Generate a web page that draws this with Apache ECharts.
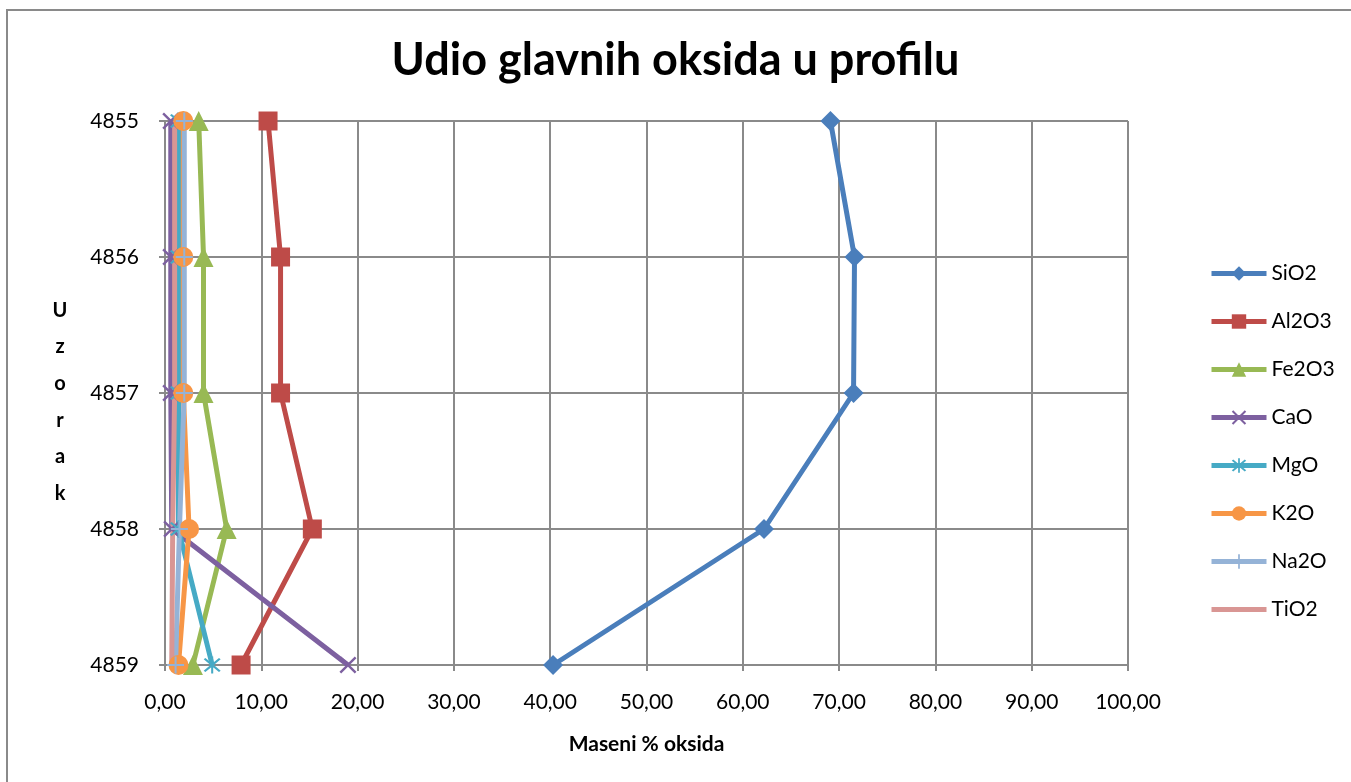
<!DOCTYPE html>
<html lang="hr">
<head>
    <meta charset="UTF-8">
    <title>Udio glavnih oksida u profilu</title>
    <script src="https://cdn.jsdelivr.net/npm/echarts@6/dist/echarts.min.js"></script>
    <style>
        html, body { margin: 0; padding: 0; background: #fff; }
        #chart { width: 1351px; height: 782px; }
    </style>
</head>
<body>
<div id="chart"></div>
<script>
    // samples (depth labels), top to bottom
    const samples = ['4855', '4856', '4857', '4858', '4859'];

    // mass % of each oxide per sample
    const sio2  = [69.1, 71.6, 71.5, 62.2, 40.3];
    const al2o3 = [10.7, 12.0, 12.0, 15.3, 7.9];
    const fe2o3 = [3.5, 4.0, 4.0, 6.4, 2.9];
    const cao   = [0.6, 0.6, 0.6, 0.7, 19.0];
    const mgo   = [1.4, 1.4, 1.4, 1.4, 4.9];
    const k2o   = [1.9, 1.9, 1.9, 2.5, 1.4];
    const na2o  = [2.0, 2.0, 2.0, 1.5, 1.1];
    const tio2  = [1.0, 1.0, 1.0, 0.8, 0.7];

    const font = 'Lato, "Open Sans", sans-serif';

    const crossPath = 'path://M0,1L1,0L5,4L9,0L10,1L6,5L10,9L9,10L5,6L1,10L0,9L4,5Z';
    const starPath = 'path://M0,1L1,0L5,4L9,0L10,1L6,5L10,9L9,10L5,6L1,10L0,9L4,5Z M4.4,-1H5.6V11H4.4Z';
    const plusPath = 'path://M4.4,0H5.6V10H4.4Z M0,4.4H10V5.6H0Z';

    function mk(name, data, color, symbol, size) {
        return {
            name: name,
            type: 'line',
            data: data,
            symbol: symbol,
            symbolSize: size,
            showSymbol: symbol !== 'none',
            lineStyle: { color: color, width: 5 },
            itemStyle: { color: color },
            emphasis: { disabled: true }
        };
    }

    const chart = echarts.init(document.getElementById('chart'));
    chart.setOption({
        animation: false,
        textStyle: { fontFamily: font },
        graphic: [{
            type: 'rect',
            shape: { x: 7, y: 10, width: 1400, height: 800 },
            style: { fill: 'none', stroke: '#8a8a8a', lineWidth: 2 }
        }, {
            // vertical stacked y-axis title
            type: 'text',
            x: 60,
            y: 292,
            style: {
                text: 'U\nz\no\nr\na\nk',
                font: 'bold 20px ' + font,
                lineHeight: 36.6,
                fill: '#000',
                align: 'center',
                verticalAlign: 'top'
            }
        }],
        title: {
            text: 'Udio glavnih oksida u profilu',
            left: 'center',
            top: 33,
            textStyle: { fontFamily: font, fontSize: 45, fontWeight: 'bold', color: '#000' }
        },
        grid: { left: 165, right: 223, top: 121, bottom: 117 },
        legend: {
            orient: 'vertical',
            left: 1204,
            top: 258,
            itemWidth: 55,
            itemHeight: 18,
            itemGap: 27,
            lineStyle: { width: 5 },
            textStyle: { fontFamily: font, fontSize: 21, color: '#000' },
            data: ['SiO2', 'Al2O3', 'Fe2O3', 'CaO', 'MgO', 'K2O', 'Na2O',
                { name: 'TiO2', itemStyle: { opacity: 0 } }]
        },
        xAxis: {
            type: 'value',
            min: 0,
            max: 100,
            interval: 10,
            name: 'Maseni % oksida',
            nameLocation: 'middle',
            nameGap: 69,
            nameTextStyle: { fontFamily: font, fontSize: 21, fontWeight: 'bold', color: '#000' },
            axisLine: { show: true, lineStyle: { color: '#8a8a8a', width: 2 } },
            axisTick: { show: true, length: 6, lineStyle: { color: '#8a8a8a', width: 2 } },
            axisLabel: {
                fontFamily: font, fontSize: 21, color: '#000', margin: 27,
                formatter: v => v.toFixed(2).replace('.', ',')
            },
            splitLine: { show: true, lineStyle: { color: '#8a8a8a', width: 2 } }
        },
        yAxis: {
            type: 'category',
            data: samples,
            inverse: true,
            boundaryGap: false,
            axisLine: { show: true, lineStyle: { color: '#8a8a8a', width: 2 } },
            axisTick: { show: true, length: 6, alignWithLabel: true, lineStyle: { color: '#8a8a8a', width: 2 } },
            axisLabel: { fontFamily: font, fontSize: 21, color: '#000', margin: 26 },
            splitLine: { show: true, lineStyle: { color: '#8a8a8a', width: 2 } }
        },
        series: [
            mk('SiO2', sio2, '#4a7ebb', 'diamond', 20),
            mk('Al2O3', al2o3, '#be4b48', 'rect', 19),
            mk('Fe2O3', fe2o3, '#98b954', 'triangle', 20),
            mk('CaO', cao, '#7d60a0', crossPath, 17),
            mk('MgO', mgo, '#46aac5', starPath, 17),
            mk('K2O', k2o, '#f79646', 'circle', 20),
            mk('Na2O', na2o, '#95b3d7', plusPath, 17),
            mk('TiO2', tio2, '#d99694', 'none', 0)
        ]
    });
</script>
</body>
</html>
